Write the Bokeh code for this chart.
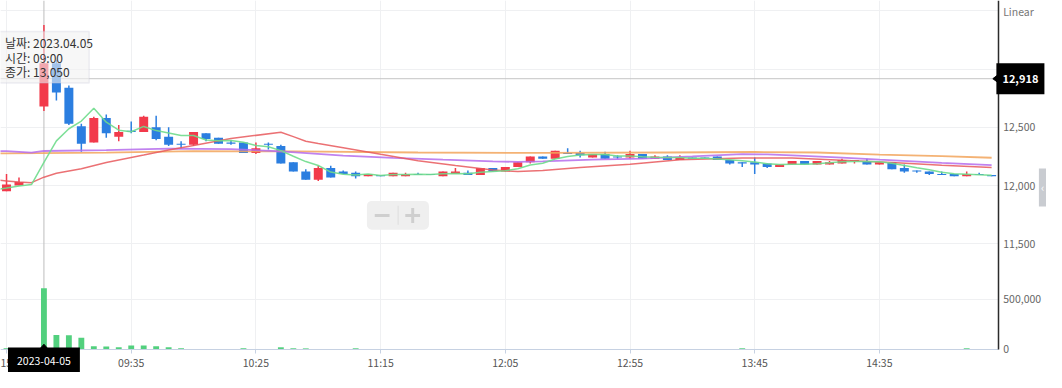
from bokeh.plotting import figure
from bokeh.models import Range1d, FixedTicker, Grid, Span, Label, BoxAnnotation, ColumnDataSource
from bokeh.embed import file_html
from bokeh.resources import INLINE

# ---------------- data ----------------
slots = list(range(-3, 77))  # -3..-1 previous day, 0 = 2023-04-05 09:00, 5-minute candles

opens = [11950, 12000, 12030, 12680, 13050, 12840, 12510, 12370, 12580, 12420,
         12470, 12460, 12500, 12420, 12360, 12350, 12450, 12410, 12370, 12370,
         12280, 12360, 12340, 12200, 12120, 12050, 12150, 12120, 12110, 12080,
         12090, 12080, 12080, 12100, 12100, 12080, 12100, 12110, 12090, 12150,
         12120, 12160, 12200, 12250, 12230, 12280, 12280, 12240, 12270, 12250,
         12240, 12270, 12230, 12250, 12220, 12240, 12240, 12250, 12220, 12200,
         12200, 12190, 12160, 12180, 12210, 12180, 12180, 12190, 12210, 12210,
         12180, 12200, 12150, 12130, 12120, 12100, 12100, 12080, 12100, 12090]
highs = [12100, 12070, 12030, 13380, 13080, 12860, 12530, 12590, 12610, 12520,
         12550, 12600, 12600, 12500, 12380, 12460, 12450, 12410, 12390, 12370,
         12370, 12370, 12350, 12200, 12140, 12170, 12170, 12130, 12120, 12100,
         12090, 12110, 12110, 12110, 12100, 12120, 12150, 12130, 12150, 12150,
         12160, 12200, 12250, 12250, 12300, 12320, 12300, 12270, 12290, 12260,
         12300, 12270, 12260, 12260, 12260, 12240, 12240, 12250, 12220, 12200,
         12240, 12190, 12180, 12210, 12210, 12210, 12210, 12230, 12220, 12230,
         12200, 12200, 12180, 12130, 12120, 12120, 12100, 12120, 12110, 12090]
lows = [11950, 12000, 12030, 12640, 12730, 12520, 12290, 12370, 12410, 12380,
        12450, 12460, 12390, 12340, 12320, 12340, 12380, 12360, 12350, 12280,
        12270, 12310, 12190, 12120, 12050, 12040, 12070, 12100, 12060, 12080,
        12080, 12080, 12080, 12090, 12090, 12080, 12100, 12090, 12090, 12120,
        12120, 12160, 12190, 12230, 12230, 12270, 12240, 12240, 12230, 12230,
        12230, 12230, 12230, 12220, 12220, 12230, 12230, 12220, 12180, 12160,
        12100, 12150, 12160, 12180, 12180, 12180, 12180, 12190, 12190, 12180,
        12180, 12140, 12110, 12110, 12090, 12090, 12080, 12080, 12090, 12080]
closes = [12010, 12030, 12030, 13050, 12800, 12530, 12360, 12580, 12450, 12460,
          12460, 12590, 12400, 12350, 12350, 12460, 12400, 12360, 12360, 12280,
          12320, 12350, 12190, 12120, 12050, 12150, 12070, 12100, 12080, 12100,
          12080, 12110, 12100, 12090, 12090, 12120, 12120, 12090, 12150, 12120,
          12160, 12200, 12250, 12230, 12300, 12270, 12260, 12270, 12230, 12240,
          12270, 12230, 12250, 12220, 12240, 12230, 12230, 12220, 12190, 12190,
          12180, 12160, 12180, 12210, 12180, 12210, 12200, 12220, 12220, 12180,
          12200, 12140, 12120, 12120, 12100, 12090, 12080, 12100, 12090, 12080]
volumes = [12000, 3000, 2000, 610000, 145000, 143000, 118000, 32000, 31000, 22000,
           41000, 40000, 32000, 22000, 13000, 4000, 3000, 3000, 2000, 12000,
           4000, 3000, 22000, 12000, 11000, 4000, 3000, 2000, 12000, 3000,
           2000, 2000, 3000, 2000, 2000, 3000, 2000, 2000, 3000, 2000,
           2000, 3000, 4000, 2000, 3000, 2000, 2000, 2000, 2000, 1000,
           2000, 2000, 1000, 2000, 2000, 1000, 1000, 2000, 3000, 12000,
           4000, 2000, 2000, 2000, 1000, 2000, 1000, 2000, 1000, 2000,
           2000, 3000, 2000, 1000, 2000, 1000, 2000, 12000, 2000, 3000]

# moving-average lines
ma5_x = list(range(-4, 77))
ma5 = [11965, 11978, 11997, 12008, 12200, 12384, 12488, 12554, 12664, 12544,
       12476, 12462, 12508, 12472, 12452, 12430, 12430, 12392, 12384, 12386,
       12372, 12344, 12334, 12300, 12252, 12206, 12172, 12116, 12098, 12090,
       12100, 12086, 12094, 12094, 12096, 12094, 12102, 12104, 12102, 12114,
       12120, 12128, 12144, 12176, 12192, 12228, 12250, 12262, 12266, 12266,
       12254, 12254, 12248, 12244, 12242, 12242, 12234, 12234, 12228, 12222,
       12212, 12202, 12188, 12180, 12184, 12182, 12188, 12196, 12204, 12206,
       12206, 12204, 12192, 12172, 12152, 12136, 12114, 12102, 12098, 12092, 12088]
ma20_x = [-4, -3, -2, -1, 0, 1, 3, 5, 8, 10, 12, 15, 19, 20, 21, 22, 24, 27, 30, 33,
          36, 38, 40, 43, 47, 51, 56, 60, 64, 68, 72, 76]
ma20 = [12050, 12040, 12030, 12025, 12072, 12105, 12145, 12198, 12262, 12305, 12345,
        12404, 12458, 12420, 12381, 12362, 12325, 12268, 12214, 12172, 12133, 12120,
        12130, 12154, 12184, 12222, 12236, 12236, 12217, 12198, 12175, 12156]
ma60_x = [-4, -3, -1, 0, 5, 10, 15, 19, 24, 28, 32, 36, 38, 40, 44, 48, 52, 56, 58,
          60, 64, 67, 72, 76]
ma60 = [12297, 12295, 12282, 12297, 12305, 12318, 12313, 12294, 12257, 12238, 12222,
        12208, 12203, 12208, 12222, 12232, 12250, 12270, 12268, 12260, 12240, 12222,
        12195, 12175]
ma120_x = [-4, -3, 5, 12, 20, 30, 40, 50, 57, 62, 67, 72, 76]
ma120 = [12277, 12277, 12283, 12295, 12294, 12284, 12280, 12284, 12288, 12284, 12266,
         12252, 12239]

x_ticks = [-3, 7, 17, 27, 37, 47, 57, 67]
x_tick_labels = ["15:15", "09:35", "10:25", "11:15", "12:05", "12:55", "13:45", "14:35"]

price_ticks = [11500, 12000, 12500]
price_tick_labels = ["11,500", "12,000", "12,500"]
price_grid = [11500, 12000, 12500, 13000, 13500]
vol_ticks = [0, 500000]
vol_tick_labels = ["0", "500,000"]

cross_price = 12918
tip_lines = ["날짜: 2023.04.05", "시간: 09:00", "종가: 13,050"]
cross_date = "2023-04-05"

# ---------------- styling / geometry ----------------
UPC = "#f23a4b"
DOWNC = "#2b7ee0"
VOLC = "#52d07e"
GRID = "#eff0f2"
FONT = "Noto Sans CJK KR"

# scale of the reference picture (data units per reference pixel)
X_LO = -3.483
UX = 80.013 / 1013.0
P_HI = 13589.8
UPR = 2998.3 / 364.0
V_HI = 3480000.0
UV = V_HI / 364.0
REF_W, REF_H = 1062.0, 388.0


def rx(px):
    return X_LO + px * UX


def ry(py):
    return P_HI - py * UPR


X_AXIS_END = rx(1013)      # right price/volume axis position
P_AXIS_LO = ry(364)        # time axis position

p = figure(width=1046, height=372,
           x_range=Range1d(X_LO, rx(REF_W)), y_range=Range1d(ry(REF_H), P_HI),
           y_axis_location="right", toolbar_location=None, output_backend="svg", title=None,
           min_border_left=0, min_border_top=0, min_border_right=0, min_border_bottom=0,
           background_fill_color="white", border_fill_color="white", outline_line_color=None)
p.extra_y_ranges = {"vol": Range1d(-(REF_H - 364) * UV, V_HI)}

# grids
p.xgrid.visible = False
p.ygrid.visible = False
p.add_layout(Grid(dimension=0, ticker=FixedTicker(ticks=x_ticks), grid_line_color=GRID))
p.add_layout(Grid(dimension=1, ticker=FixedTicker(ticks=price_grid), grid_line_color=GRID))
p.add_layout(Grid(dimension=1, ticker=FixedTicker(ticks=[500000]), y_range_name="vol", grid_line_color=GRID))

# crosshair lines (beneath the candles)
p.add_layout(Span(location=0, dimension="height", line_color="#bdbdbd", line_width=1, level="underlay"))
p.add_layout(Span(location=cross_price, dimension="width", line_color="#c6c6c6", line_width=1, level="underlay"))

# candles
colors = [UPC if c >= o else DOWNC for o, c in zip(opens, closes)]
src = ColumnDataSource(dict(x=slots, high=highs, low=lows,
                            top=[max(o, c) for o, c in zip(opens, closes)],
                            bot=[min(o, c) for o, c in zip(opens, closes)],
                            color=colors))
p.segment(x0="x", y0="low", x1="x", y1="high", line_color="color", line_width=1.5, source=src)
p.vbar(x="x", width=0.72, top="top", bottom="bot", fill_color="color", line_color=None, source=src)

# volume
p.vbar(x=slots, top=volumes, bottom=0, width=0.47, fill_color=VOLC, line_color=None, y_range_name="vol")

# moving averages
p.line(ma120_x, ma120, line_color="#f2a45c", line_width=1.8, line_alpha=0.85)
p.line(ma60_x, ma60, line_color="#b56cec", line_width=1.8, line_alpha=0.85)
p.line(ma20_x, ma20, line_color="#e8585c", line_width=1.5, line_alpha=0.85)
p.line(ma5_x, ma5, line_color="#6fdc8c", line_width=1.5, line_alpha=0.9)

# white margins outside the plotting area (hide grid lines there)
p.quad(left=[X_AXIS_END, X_LO], right=[rx(REF_W), rx(REF_W)],
       top=[P_HI, P_AXIS_LO], bottom=[ry(REF_H), ry(REF_H)],
       fill_color="white", line_color=None)

# axes (drawn at fixed positions inside the canvas)
yax = p.yaxis[0]
yax.fixed_location = X_AXIS_END
yax.bounds = (P_AXIS_LO, P_HI)
vt = [round(P_AXIS_LO + v / UV * UPR, 3) for v in vol_ticks]
vt[0] = round(P_AXIS_LO + 0.3, 3)
yax.ticker = FixedTicker(ticks=vt + price_ticks)
ov = {}
for t, s in zip(vt, vol_tick_labels):
    ov[t] = s
for t, s in zip(price_ticks, price_tick_labels):
    ov[t] = s
yax.major_label_overrides = ov
yax.axis_line_color = "#2b2b2b"
yax.axis_line_width = 1.5
yax.major_tick_out = 0
yax.major_tick_in = 0
yax.minor_tick_out = 0
yax.minor_tick_in = 0
yax.major_label_standoff = 5
yax.major_label_text_font = FONT
yax.major_label_text_font_size = "10.5px"
yax.major_label_text_color = "#666666"

xax = p.xaxis[0]
xax.fixed_location = P_AXIS_LO
xax.bounds = (X_LO, X_AXIS_END)
xax.ticker = FixedTicker(ticks=x_ticks)
xax.major_label_overrides = {t: s for t, s in zip(x_ticks, x_tick_labels)}
xax.axis_line_color = "#c6d1e2"
xax.major_tick_line_color = "#c6d1e2"
xax.major_tick_out = 4
xax.major_tick_in = 0
xax.minor_tick_out = 0
xax.minor_tick_in = 0
xax.major_label_standoff = 2
xax.major_label_text_font = FONT
xax.major_label_text_font_size = "10.5px"
xax.major_label_text_color = "#555555"

# tooltip
p.add_layout(BoxAnnotation(left=rx(-4), right=rx(90), top=ry(32.3), bottom=ry(86),
                           fill_color="#f2f2f2", fill_alpha=0.6,
                           line_color="#c9cbdb", line_width=1.5))
for i, t in enumerate(tip_lines):
    p.add_layout(Label(x=rx(4.5), y=ry(44.3 + 15 * i), text=t, text_align="left",
                       text_baseline="middle", text_font=FONT, text_font_size="12px",
                       text_color="#333333"))

# zoom widget
p.add_layout(BoxAnnotation(left=rx(372), right=rx(435), top=ry(209), bottom=ry(239),
                           fill_color="#efefef", fill_alpha=1, line_color=None, border_radius=5))
for (l, r, t, b, c) in [(380, 395, 222.7, 225.7, "#cfcfcf"),
                        (403.2, 404.2, 214, 234, "#dddddd"),
                        (411, 426, 222.7, 225.7, "#cfcfcf"),
                        (417, 420, 216.5, 232, "#cfcfcf")]:
    p.add_layout(BoxAnnotation(left=rx(l), right=rx(r), top=ry(t), bottom=ry(b),
                               fill_color=c, fill_alpha=1, line_color=None))

# price tag on the axis
p.patch([rx(1007.5), rx(1014), rx(1014)], [cross_price, ry(76.5), ry(86.5)], color="black")
p.add_layout(Label(x=rx(1035.5), y=cross_price, text="12,918", text_align="center",
                   text_baseline="middle", text_color="white", text_font=FONT,
                   text_font_size="11px", text_font_style="bold",
                   background_fill_color="black", padding=(6, 11)))

# date tag on the time axis
p.patch([rx(39.1), rx(49.1), rx(44.1)], [ry(364.5), ry(364.5), ry(358.5)], color="black")
p.add_layout(Label(x=0, y=ry(376.5), text=cross_date, text_align="center",
                   text_baseline="middle", text_color="white", text_font=FONT,
                   text_font_size="10.5px", background_fill_color="black",
                   padding=(9, 10)))

# "Linear" scale label and side tab
p.add_layout(Label(x=rx(1018), y=ry(11.7), text="Linear", text_align="left",
                   text_baseline="middle", text_font=FONT, text_font_size="10.5px",
                   text_color="#777777"))
p.add_layout(Label(x=rx(1058), y=ry(195), text="‹", text_align="center",
                   text_baseline="middle", text_font=FONT, text_font_size="11px",
                   text_color="white", background_fill_color="#c9ccd1",
                   padding=(2, 11)))

open("out.html", "w").write(file_html(p, INLINE))
